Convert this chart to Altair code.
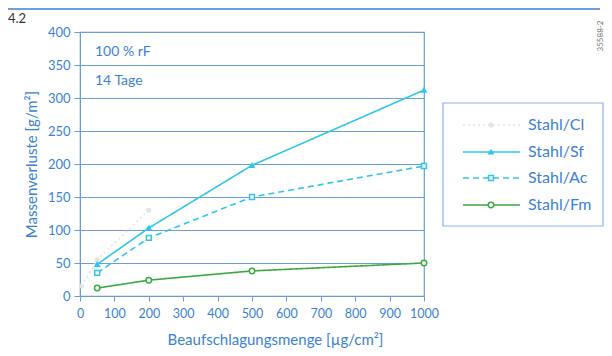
import altair as alt
import pandas as pd

# ---- data ----
series = ["Stahl/Cl", "Stahl/Sf", "Stahl/Ac", "Stahl/Fm"]
x_cl = [5, 50, 200]
y_cl = [15, 55, 130]
x_sf = [50, 200, 500, 1000]
y_sf = [48, 103, 198, 312]
x_ac = [50, 200, 500, 1000]
y_ac = [35, 88, 150, 197]
x_fm = [50, 200, 500, 1000]
y_fm = [12, 24, 38, 50]
x_ticks = list(range(0, 1001, 100))
y_ticks = list(range(0, 401, 50))

line_colors = ["#e4e4e4", "#2fc6ea", "#2fc6ea", "#3ca842"]
fill_colors = ["#e4e4e4", "#2fc6ea", "#ffffff", "#ffffff"]
dashes = [[2, 3], [1, 0], [6, 4], [1, 0]]
shapes = ["cross", "triangle-up", "square", "circle"]
sizes = [12, 30, 30, 30]

BLUE = "#3d7fd6"
GRID = "#6b9ce0"
FONT = "Lato"
TICKFONT = "Lato"

rows = []
for name, xs, ys in zip(series, [x_cl, x_sf, x_ac, x_fm], [y_cl, y_sf, y_ac, y_fm]):
    for a, b in zip(xs, ys):
        rows.append({"series": name, "x": a, "y": b})
df = pd.DataFrame(rows)

color_scale = alt.Scale(domain=series, range=line_colors)
fill_scale = alt.Scale(domain=series, range=fill_colors)
dash_scale = alt.Scale(domain=series, range=dashes)
shape_scale = alt.Scale(domain=series, range=shapes)
size_scale = alt.Scale(domain=series, range=sizes)

W, H = 344, 264

xaxis = alt.Axis(values=x_ticks, format="d", labelOverlap=False,
                 labelFlush=False,
                 title="Beaufschlagungsmenge [µg/cm²]",
                 grid=False, domainColor=GRID, tickColor=GRID,
                 tickSize=5, labelColor=BLUE, labelFontSize=12.5,
                 labelFont=TICKFONT, titleFont=FONT, titleFontSize=15,
                 titleFontWeight="normal", titleColor=BLUE,
                 titleX=195, titlePadding=13, labelPadding=6)
yaxis = alt.Axis(values=y_ticks, format="d", labelOverlap=False,
                 labelFlush=False,
                 title="Massenverluste [g/m²]",
                 grid=True, gridColor=GRID, gridWidth=1.2,
                 domainColor=GRID, tickColor=GRID, tickSize=6,
                 labelColor=BLUE, labelFontSize=13, labelFont=TICKFONT,
                 titleFont=FONT, titleFontSize=15,
                 titleFontWeight="normal", titleColor=BLUE,
                 titlePadding=8, labelPadding=4)
xenc = alt.X("x:Q", scale=alt.Scale(domain=[0, 1000], nice=False), axis=xaxis)
yenc = alt.Y("y:Q", scale=alt.Scale(domain=[0, 400], nice=False), axis=yaxis)

lines = alt.Chart(df).mark_line(strokeWidth=1.6).encode(
    x=xenc, y=yenc,
    color=alt.Color("series:N", scale=color_scale, legend=None),
    strokeDash=alt.StrokeDash("series:N", scale=dash_scale, legend=None),
    detail="series:N",
)
points = alt.Chart(df).mark_point(strokeWidth=1.5, opacity=1).encode(
    x=xenc, y=yenc,
    shape=alt.Shape("series:N", scale=shape_scale, legend=None),
    stroke=alt.Stroke("series:N", scale=color_scale, legend=None),
    fill=alt.Fill("series:N", scale=fill_scale, legend=None),
    size=alt.Size("series:N", scale=size_scale, legend=None),
)

# ---- annotations ----
notes = pd.DataFrame({"t": ["100 % rF", "14 Tage"], "py": [20, 49]})
note_text = alt.Chart(notes).mark_text(align="left", baseline="middle",
                                       font=FONT, fontSize=14, color=BLUE).encode(
    x=alt.value(15), y=alt.Y("py:Q", scale=None), text="t:N")

# ---- manual legend ----
leg = pd.DataFrame({"series": series, "py": [93, 120, 146, 173]})
leg_box = alt.Chart(pd.DataFrame({"a": [0]})).mark_rect(
    fill="white", stroke="#8fb3e6", strokeWidth=1.2).encode(
    x=alt.value(363), x2=alt.value(523), y=alt.value(71), y2=alt.value(194))
leg_lines = alt.Chart(leg).mark_rule(strokeWidth=1.6).encode(
    x=alt.value(383), x2=alt.value(440), y=alt.Y("py:Q", scale=None),
    color=alt.Color("series:N", scale=color_scale, legend=None),
    strokeDash=alt.StrokeDash("series:N", scale=dash_scale, legend=None))
leg_pts = alt.Chart(leg).mark_point(strokeWidth=1.5, opacity=1).encode(
    x=alt.value(411), y=alt.Y("py:Q", scale=None),
    shape=alt.Shape("series:N", scale=shape_scale, legend=None),
    stroke=alt.Stroke("series:N", scale=color_scale, legend=None),
    fill=alt.Fill("series:N", scale=fill_scale, legend=None),
    size=alt.Size("series:N", scale=size_scale, legend=None))
leg_text = alt.Chart(leg).mark_text(align="left", baseline="middle", font=FONT,
                                    fontSize=16, color=BLUE).encode(
    x=alt.value(448), y=alt.Y("py:Q", scale=None), text="series:N")

# ---- page decorations ----
top_rule = alt.Chart(pd.DataFrame({"a": [0]})).mark_rule(
    color="#6f9fdc", strokeWidth=2).encode(
    x=alt.value(-75), x2=alt.value(520), y=alt.value(-23))
fig_no = alt.Chart(pd.DataFrame({"t": ["4.2"]})).mark_text(
    align="left", baseline="middle", font=FONT, fontSize=13, color="#333333").encode(
    x=alt.value(-72), y=alt.value(-13), text="t:N")
code = alt.Chart(pd.DataFrame({"t": ["35588-2"]})).mark_text(
    align="center", baseline="middle", font=FONT, fontSize=8, angle=270,
    color="#777777").encode(x=alt.value(521), y=alt.value(4), text="t:N")

chart = alt.layer(lines, points, note_text, leg_box, leg_lines, leg_pts,
                  leg_text, top_rule, fig_no, code).properties(
    width=W, height=H,
    autosize=alt.AutoSizeParams(type="none"),
    padding={"left": 72, "top": 24, "right": 180, "bottom": 52},
    background="white",
).configure_view(stroke=GRID, strokeWidth=1.2)

chart.save("out.html", embed_options={"renderer": "svg", "actions": False})
